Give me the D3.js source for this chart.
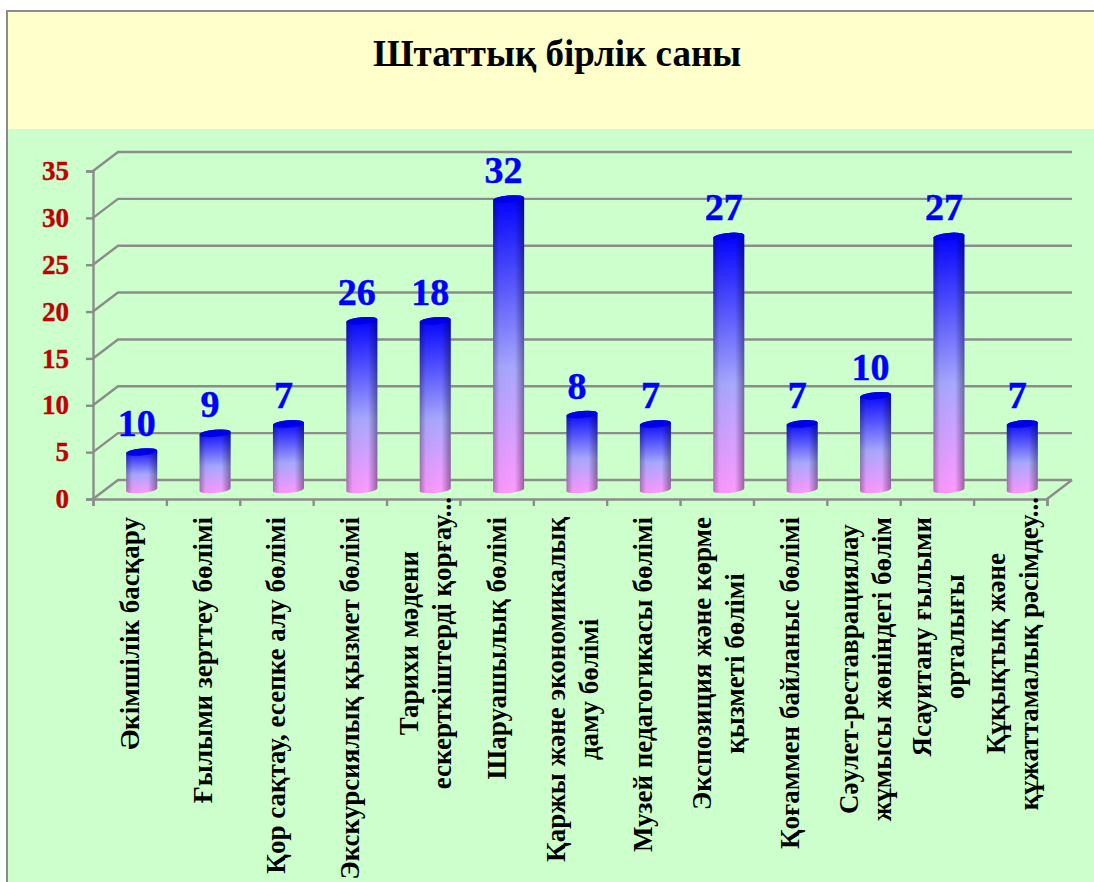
<!DOCTYPE html>
<html>
<head>
<meta charset="utf-8">
<script src="https://cdn.jsdelivr.net/npm/d3@7"></script>
<style>
  body { margin: 0; background: #fff; }
  svg { display: block; }
  text { font-family: "Liberation Serif", serif; font-weight: bold; }
</style>
</head>
<body>
<script>
// Chart data
var categories = [
  ["Әкімшілік басқару"],
  ["Ғылыми зерттеу бөлімі"],
  ["Қор сақтау, есепке алу бөлімі"],
  ["Экскурсиялық қызмет бөлімі"],
  ["Тарихи мәдени", "ескерткіштерді қорғау..."],
  ["Шаруашылық бөлімі"],
  ["Қаржы және экономикалық", "даму бөлімі"],
  ["Музей педагогикасы бөлімі"],
  ["Экспозиция және көрме", "қызметі бөлімі"],
  ["Қоғаммен байланыс бөлімі"],
  ["Сәулет-реставрациялау", "жұмысы жөніндегі бөлім"],
  ["Ясауитану ғылыми", "орталығы"],
  ["Құқықтық және", "құжаттамалық рәсімдеу..."]
];
// the bars and their printed labels do not agree in the picture, so both are kept
var barValues = [4, 6, 7, 18, 18, 31, 8, 7, 27, 7, 10, 27, 7];
var valueLabels = [10, 9, 7, 26, 18, 32, 8, 7, 27, 7, 10, 27, 7];
var yTicks = [0, 5, 10, 15, 20, 25, 30, 35];
var chartTitle = "Штаттық бірлік саны";

var svgWidth = 1094;
var svgHeight = 882;

// Plot box, front plane of the 3D frame
var left = 93, right = 1047, bottom = 499, top_ = 171;
var depthX = 25, depthY = 19;
var barWidth = 31;

var svg = d3.select("body").append("svg")
  .attr("width", svgWidth)
  .attr("height", svgHeight);

var defs = svg.append("defs");

var barGrad = defs.append("linearGradient")
  .attr("id", "barGrad")
  .attr("x1", 0).attr("y1", 0).attr("x2", 0).attr("y2", 1);
barGrad.append("stop").attr("offset", "0%").attr("stop-color", "#0000ff");
barGrad.append("stop").attr("offset", "58%").attr("stop-color", "#a8a8ff");
barGrad.append("stop").attr("offset", "100%").attr("stop-color", "#ff99ff");

var shadeGrad = defs.append("linearGradient")
  .attr("id", "shadeGrad")
  .attr("x1", 0).attr("y1", 0).attr("x2", 1).attr("y2", 0);
shadeGrad.append("stop").attr("offset", "0%").attr("stop-color", "#000").attr("stop-opacity", 0.3);
shadeGrad.append("stop").attr("offset", "20%").attr("stop-color", "#000").attr("stop-opacity", 0.03);
shadeGrad.append("stop").attr("offset", "70%").attr("stop-color", "#000").attr("stop-opacity", 0);
shadeGrad.append("stop").attr("offset", "100%").attr("stop-color", "#000").attr("stop-opacity", 0.38);

// Background panels
svg.append("rect").attr("x", 7).attr("y", 11).attr("width", svgWidth).attr("height", 118).attr("fill", "#ffffcc");
svg.append("rect").attr("x", 7).attr("y", 129).attr("width", svgWidth).attr("height", svgHeight - 129).attr("fill", "#ccffcc");
svg.append("path")
  .attr("d", d3.line()([[7, svgHeight], [7, 11], [svgWidth, 11]]))
  .attr("fill", "none")
  .attr("stroke", "#8c8c8c")
  .attr("stroke-width", 2);

svg.append("text")
  .attr("x", 557)
  .attr("y", 66)
  .attr("text-anchor", "middle")
  .style("font-size", "37px")
  .attr("fill", "#000")
  .text(chartTitle);

// Scales
var xScale = d3.scaleBand()
  .domain(d3.range(categories.length))
  .range([left, right]);
var xEdges = d3.scaleLinear()
  .domain([0, categories.length])
  .range([left, right]);
var yScale = d3.scaleLinear()
  .domain([0, 35])
  .range([bottom, top_]);

var gridColor = "#8c8c8c";
var gridWidth = 2.4;

// Back wall gridlines and the slanted side wall
yTicks.forEach(function(t) {
  svg.append("path")
    .attr("d", d3.line()([
      [left, yScale(t)],
      [left + depthX, yScale(t) - depthY],
      [right + depthX, yScale(t) - depthY]
    ]))
    .attr("fill", "none")
    .attr("stroke", gridColor)
    .attr("stroke-width", gridWidth);
});
// Right floor edge
svg.append("path")
  .attr("d", d3.line()([[right, bottom], [right + depthX, bottom - depthY]]))
  .attr("fill", "none")
  .attr("stroke", gridColor)
  .attr("stroke-width", gridWidth);

// Axes
var yAxis = d3.axisLeft(yScale).tickValues(yTicks).tickSize(7).tickPadding(17);
var xAxis = d3.axisBottom(xEdges).tickValues(d3.range(categories.length + 1)).tickSize(7).tickFormat("");

var yGroup = svg.append("g").attr("transform", `translate(${left}, 0)`).call(yAxis);
var xGroup = svg.append("g").attr("transform", `translate(0, ${bottom})`).call(xAxis);

[yGroup, xGroup].forEach(function(g) {
  g.selectAll("path, line").attr("stroke", gridColor).attr("stroke-width", gridWidth);
});
yGroup.selectAll("text")
  .attr("fill", "#c00000")
  .attr("stroke", "#c00000")
  .attr("stroke-width", 0.4)
  .style("font-size", "27px")
  .style("font-family", '"Liberation Serif", serif')
  .style("font-weight", "bold");

// Bars sit halfway into the depth of the frame
var barShift = 12;
var barLift = depthY / 2;
var capRy = 3.6;
var tilt = 1.4;

function barPath(i) {
  var cx = xScale(i) + xScale.bandwidth() / 2 + barShift;
  var x0 = cx - barWidth / 2, x1 = cx + barWidth / 2;
  var yTop = yScale(barValues[i]) - barLift;
  var yBase = yScale(0) - barLift;
  return "M" + x0 + "," + (yTop + tilt) +
    "A" + (barWidth / 2) + "," + capRy + " -5 0 1 " + x1 + "," + (yTop - tilt) +
    "L" + x1 + "," + (yBase - tilt) +
    "A" + (barWidth / 2) + "," + capRy + " -5 0 1 " + x0 + "," + (yBase + tilt) + "Z";
}

function capPath(i) {
  var cx = xScale(i) + xScale.bandwidth() / 2 + barShift;
  var x0 = cx - barWidth / 2, x1 = cx + barWidth / 2;
  var yTop = yScale(barValues[i]) - barLift;
  return "M" + x0 + "," + (yTop + tilt) +
    "A" + (barWidth / 2) + "," + capRy + " -5 0 1 " + x1 + "," + (yTop - tilt) +
    "A" + (barWidth / 2) + "," + capRy + " -5 0 1 " + x0 + "," + (yTop + tilt) + "Z";
}

var bars = svg.selectAll(".bar")
  .data(barValues)
  .enter()
  .append("g")
  .classed("bar", true);

bars.append("path").attr("d", (d, i) => barPath(i)).attr("fill", "url(#barGrad)");
bars.append("path").attr("d", (d, i) => barPath(i)).attr("fill", "url(#shadeGrad)");
bars.append("path").attr("d", (d, i) => capPath(i)).attr("fill", "#0000e8");

// Value labels above the bars
svg.selectAll(".value")
  .data(valueLabels)
  .enter()
  .append("text")
  .classed("value", true)
  .attr("x", (d, i) => xScale(i) + xScale.bandwidth() / 2 + barShift - 5)
  .attr("y", (d, i) => yScale(barValues[i]) - barLift - 16)
  .attr("text-anchor", "middle")
  .attr("fill", "#0000ff")
  .attr("stroke", "#0000ff")
  .attr("stroke-width", 0.5)
  .style("font-size", "38px")
  .text(d => d);

// Rotated category labels
var labelTop = 517;
var lineGap = 33;
categories.forEach(function(lines, i) {
  var center = xScale(i) + xScale.bandwidth() / 2;
  var g = svg.append("g");
  var texts = lines.map(function(line) {
    return g.append("text")
      .attr("text-anchor", "middle")
      .attr("fill", "#000")
      .style("font-size", "27px")
      .text(line);
  });
  var longest = d3.max(texts, t => t.node().getComputedTextLength());
  var truncated = lines.some(l => l.endsWith("..."));
  var top = truncated ? 497 : labelTop;
  var midY = top + longest / 2;
  texts.forEach(function(t, k) {
    var offset = lines.length > 1 ? (k - 0.5) * lineGap + 2 : 0;
    t.attr("transform", `translate(${center + offset + 9}, ${midY}) rotate(-90)`);
  });
});
</script>
</body>
</html>
